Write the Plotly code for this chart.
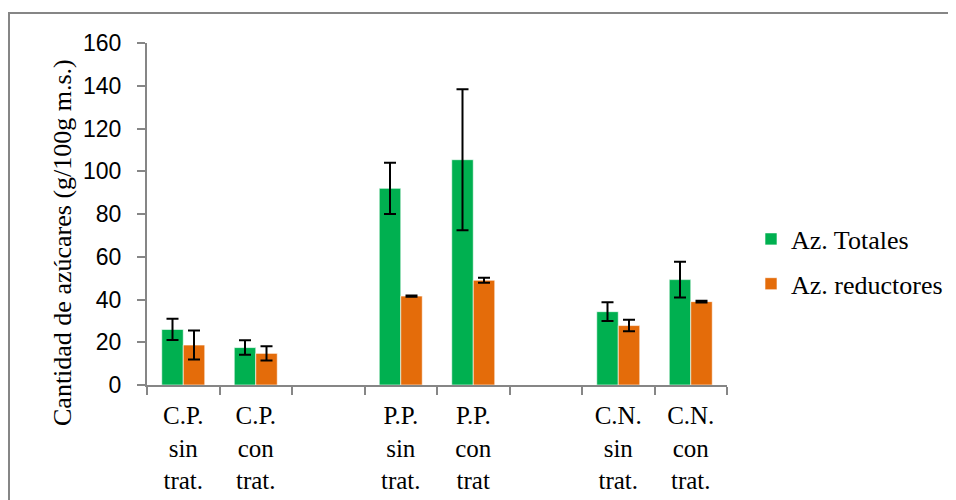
import plotly.graph_objects as go

categories = ["C.P.<br>sin<br>trat.", "C.P.<br>con<br>trat.", " ",
              "P.P.<br>sin<br>trat.", "P.P.<br>con<br>trat", "  ",
              "C.N.<br>sin<br>trat.", "C.N.<br>con<br>trat."]
totales = [26.0, 17.5, None, 92.0, 105.4, None, 34.3, 49.3]
totales_err = [5.0, 3.4, 0, 12.0, 33.0, 0, 4.4, 8.4]
reductores = [18.7, 14.8, None, 41.6, 49.0, None, 27.8, 39.0]
reductores_err = [6.8, 3.3, 0, 0.3, 1.2, 0, 2.7, 0.4]
y_ticks = [0, 20, 40, 60, 80, 100, 120, 140, 160]

GREEN = "#00B050"
ORANGE = "#E46C0A"
GRAY = "#868686"
SERIF = "Liberation Serif"
SANS = "Liberation Sans"

fig = go.Figure()
fig.add_trace(go.Bar(
    x=categories, y=totales, name="Az. Totales", legendgroup="a",
    marker=dict(color=GREEN, line=dict(color="rgba(255,255,255,0.6)", width=1)),
    error_y=dict(type="data", array=totales_err, color="black", thickness=2, width=6),
))
fig.add_trace(go.Bar(
    x=categories, y=reductores, name="Az. reductores", legendgroup="b",
    marker=dict(color=ORANGE, line=dict(color="rgba(255,255,255,0.6)", width=1)),
    error_y=dict(type="data", array=reductores_err, color="black", thickness=2, width=6),
))

# page has an 8px body margin: figure pixel = page pixel - 8
W, H = 956, 500
L, T = 139, 35
pw, ph = 580, 342
R, B = W - L - pw, H - T - ph

fig.update_layout(
    width=W, height=H,
    margin=dict(l=L, r=R, t=T, b=B, pad=0),
    paper_bgcolor="white", plot_bgcolor="white",
    barmode="group", bargap=0.407, bargroupgap=0,
    showlegend=True,
    legend=dict(
        x=(751 - 147) / pw, xanchor="left",
        y=(385 - 261.5) / ph, yanchor="middle",
        font=dict(family=SERIF, size=26, color="black"),
        tracegroupgap=8, traceorder="grouped",
        bgcolor="rgba(0,0,0,0)", itemwidth=30,
    ),
    xaxis=dict(
        type="category", categoryorder="array", categoryarray=categories,
        showline=True, linecolor=GRAY, linewidth=2,
        ticks="outside", tickson="boundaries", ticklen=8, tickcolor=GRAY, tickwidth=2,
        tickfont=dict(family=SERIF, size=25, color="black"),
        ticklabelstandoff=7,
        showgrid=False, zeroline=False, fixedrange=True,
    ),
    yaxis=dict(
        range=[0, 160], tickmode="array", tickvals=y_ticks,
        showline=True, linecolor=GRAY, linewidth=2,
        ticks="outside", ticklen=8, tickcolor=GRAY, tickwidth=2,
        tickfont=dict(family=SANS, size=23, color="black"),
        ticklabelstandoff=11,
        showgrid=False, zeroline=False, fixedrange=True,
    ),
    annotations=[dict(
        text="Cantidad de azúcares (g/100g m.s.)",
        textangle=-90, xref="paper", yref="paper",
        x=(62 - 147) / pw, y=(385 - 243) / ph,
        xanchor="center", yanchor="middle", showarrow=False,
        font=dict(family=SERIF, size=26, color="black"),
    )],
    shapes=[dict(
        type="rect", xref="paper", yref="paper",
        x0=(9 - 147) / pw, x1=(1000 - 147) / pw,
        y0=(385 - 560) / ph, y1=(385 - 13) / ph,
        line=dict(color=GRAY, width=2), fillcolor="rgba(0,0,0,0)", layer="above",
    )],
)

fig.write_html("out.html")
